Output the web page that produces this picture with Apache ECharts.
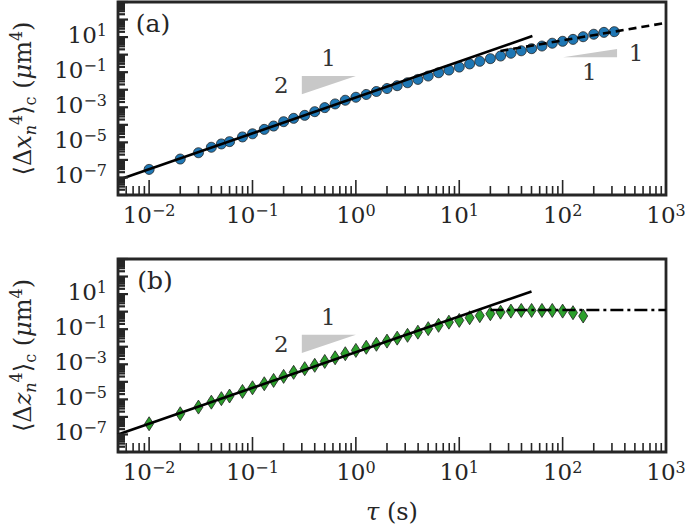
<!DOCTYPE html>
<html><head><meta charset="utf-8">
<script src="https://cdn.jsdelivr.net/npm/echarts@6/dist/echarts.min.js"></script>
<style>html,body{margin:0;padding:0;background:#fff}#c{width:685px;height:529px}</style>
</head><body><div id="c"></div>
<script>
// ---- data ----
const tau = [0.01,0.02,0.03,0.04,0.05,0.06,0.08,0.10,0.13,0.16,0.20,0.25,0.32,0.40,0.50,0.63,0.79,
  1.00,1.26,1.58,2.00,2.51,3.16,3.98,5.01,6.31,7.94,10.0,12.6,15.8,20.0,25.1,31.6,39.8,50.1,63.1,79.4,
  100,126,158,200,251,316];
const cumX = [2.88e-7,1.12e-6,2.57e-6,5.25e-6,8.13e-6,1.10e-5,2.04e-5,3.09e-5,5.50e-5,8.51e-5,1.51e-4,
  2.34e-4,3.47e-4,5.62e-4,9.55e-4,1.55e-3,2.51e-3,3.72e-3,5.37e-3,7.94e-3,1.17e-2,1.70e-2,2.51e-2,
  3.89e-2,6.03e-2,9.33e-2,0.132,0.195,0.295,0.417,0.589,0.832,1.20,1.66,2.19,3.09,4.47,5.75,7.41,
  10.5,14.5,18.6,20.4];
const cumZ = [4.07e-7,1.51e-6,3.63e-6,6.92e-6,1.10e-5,1.55e-5,2.82e-5,4.57e-5,7.76e-5,1.20e-4,2.04e-4,
  3.47e-4,5.62e-4,8.71e-4,1.45e-3,2.34e-3,3.98e-3,6.17e-3,9.33e-3,1.38e-2,2.09e-2,3.09e-2,4.47e-2,
  6.76e-2,0.107,0.166,0.251,0.316,0.447,0.589,0.759,0.933,1.07,1.17,1.17,1.17,1.17,1.07,0.871,0.562];
const fitXshort = [[0.005,7.08e-8],[51,11.5]];
const fitXlong  = [[25,1.62],[1000,64.6]];
const fitZshort = [[0.005,1.0e-7],[50,14.1]];
const plateauZ  = [[20,1.25],[1000,1.25]];
const slopeTriA1 = [[0.3,0.0603],[1.0,0.0603],[0.3,0.0055]];
const slopeTriA2 = [[101,0.705],[336,2.09],[336,0.705]];
const slopeTriB1 = [[0.3,0.0484],[1.0,0.0484],[0.3,0.00437]];
const slopeLabelsA = [['2',0.19,0.0186],['1',0.545,0.62],['1',181,0.107],['1',514,1.19]];
const slopeLabelsB = [['2',0.19,0.0135],['1',0.54,0.49]];
const xTickExps = [-2,-1,0,1,2,3];
const yTickExps = [1,-1,-3,-5,-7];
const minorMult = [2,3,4,5,6,7,8,9];
const xRange = [0.005,1000];
const yRange = [1e-8,1e3];

// ---- styling ----
const FONT = 'DejaVu Serif';
const INK = '#262626';
function expStr(e){ return e<0 ? '\u2212'+(-e) : String(e); }
const tickRich = {
  b:{fontSize:23,lineHeight:26,fontFamily:FONT,fill:INK},
  s:{fontSize:16,lineHeight:14,fontFamily:FONT,fill:INK,verticalAlign:'top'}
};

function axisDeco(gi){
  return {type:'custom',xAxisIndex:gi,yAxisIndex:gi,silent:true,z:6,data:[[1,1]],
    renderItem:function(params,api){
      const kids=[];
      const bl=api.coord([xRange[0],yRange[0]]);
      const left=bl[0], bottom=bl[1];
      const lx=Math.log10(xRange[0]), hx=Math.log10(xRange[1]);
      const ly=Math.log10(yRange[0]), hy=Math.log10(yRange[1]);
      const mults=[1].concat(minorMult);
      for(let e=Math.floor(lx);e<=Math.ceil(hx);e++){
        mults.forEach(function(m){
          const v=m*Math.pow(10,e), lv=Math.log10(v);
          if(lv<lx-1e-9||lv>hx+1e-9) return;
          const px=api.coord([v,yRange[0]])[0];
          const len=m===1?15:9;
          kids.push({type:'line',shape:{x1:px,y1:bottom,x2:px,y2:bottom-len},style:{stroke:INK,lineWidth:1.6}});
        });
      }
      for(let e=Math.floor(ly);e<=Math.ceil(hy);e++){
        mults.forEach(function(m){
          const v=m*Math.pow(10,e), lv=Math.log10(v);
          if(lv<ly-1e-9||lv>hy+1e-9) return;
          const py=api.coord([xRange[0],v])[1];
          const len=m===1?10:7;
          kids.push({type:'line',shape:{x1:left,y1:py,x2:left+len,y2:py},style:{stroke:INK,lineWidth:2.2}});
        });
      }
      xTickExps.forEach(function(e){
        const px=api.coord([Math.pow(10,e),yRange[0]])[0];
        kids.push({type:'text',x:px,y:bottom+20,style:{text:'{b|10}{s|'+expStr(e)+'}',rich:tickRich,
          align:'center',verticalAlign:'middle'}});
      });
      yTickExps.forEach(function(e){
        const py=api.coord([xRange[0],Math.pow(10,e)])[1];
        kids.push({type:'text',x:left-11,y:py-2,style:{text:'{b|10}{s|'+expStr(e)+'}',rich:tickRich,
          align:'right',verticalAlign:'middle'}});
      });
      return {type:'group',children:kids};
    }};
}

function triangles(gi,tris){
  return {type:'custom',xAxisIndex:gi,yAxisIndex:gi,silent:true,z:1,data:[[1,1]],
    renderItem:function(params,api){
      return {type:'group',children:tris.map(function(t){
        return {type:'polygon',shape:{points:t.map(function(p){return api.coord(p);})},
          style:{fill:'#c8c8c8',stroke:null}};
      })};
    }};
}
function slopeText(gi,labels){
  return {type:'custom',xAxisIndex:gi,yAxisIndex:gi,silent:true,z:1,data:[[1,1]],
    renderItem:function(params,api){
      return {type:'group',children:labels.map(function(l){
        const p=api.coord([l[1],l[2]]);
        return {type:'text',x:p[0],y:p[1],style:{text:l[0],fontSize:23,fontFamily:FONT,fill:'#333',
          align:'center',verticalAlign:'middle'}};
      })};
    }};
}
function fitLine(gi,data,type){
  return {type:'line',xAxisIndex:gi,yAxisIndex:gi,data:data,showSymbol:false,symbol:'none',silent:true,z:4,
    lineStyle:{color:'#000',width:2.6,type:type}};
}

const nameRich = {
  t:{fontSize:24,fontFamily:FONT,color:INK,lineHeight:30},
  i:{fontSize:24,fontFamily:FONT,fontStyle:'italic',color:INK,lineHeight:30},
  sub:{fontSize:16,fontFamily:FONT,fontStyle:'italic',color:INK,verticalAlign:'bottom',lineHeight:17},
  subr:{fontSize:16,fontFamily:FONT,color:INK,verticalAlign:'bottom',lineHeight:17},
  sup:{fontSize:16,fontFamily:FONT,color:INK,verticalAlign:'top',lineHeight:15}
};
function yAxisOf(gi,sym){
  return {type:'log',gridIndex:gi,min:yRange[0],max:yRange[1],
    axisLine:{show:false},axisTick:{show:false},axisLabel:{show:false},splitLine:{show:false},
    name:'{t|\u27E8\u0394}{i|'+sym+'}{sub|n}{sup|4}{t|\u27E9}{subr|c}{t| (}{i|\u03BC}{t|m}{sup|4}{t|)}',
    nameLocation:'middle',nameRotate:90,nameGap:80,nameTextStyle:{rich:nameRich}};
}

const option = {
  animation:false,
  backgroundColor:'#fff',
  grid:[
    {left:117,top:2,width:549,height:193,show:true,borderColor:INK,borderWidth:2.8},
    {left:117,top:259,width:549,height:193,show:true,borderColor:INK,borderWidth:2.8}
  ],
  xAxis:[
    {type:'log',gridIndex:0,min:xRange[0],max:xRange[1],axisLine:{show:false},axisTick:{show:false},
      axisLabel:{show:false},splitLine:{show:false}},
    {type:'log',gridIndex:1,min:xRange[0],max:xRange[1],axisLine:{show:false},axisTick:{show:false},
      axisLabel:{show:false},splitLine:{show:false},
      name:'{i|\u03C4}{t| (s)}',nameLocation:'middle',nameGap:45,nameTextStyle:{rich:nameRich}}
  ],
  yAxis:[yAxisOf(0,'x'),yAxisOf(1,'z')],
  graphic:[
    {type:'text',x:153,y:23,style:{text:'(a)',fontSize:25,fontFamily:FONT,fill:INK,align:'center',verticalAlign:'middle'}},
    {type:'text',x:155,y:280,style:{text:'(b)',fontSize:25,fontFamily:FONT,fill:INK,align:'center',verticalAlign:'middle'}}
  ],
  series:[
    triangles(0,[slopeTriA1,slopeTriA2]),
    slopeText(0,slopeLabelsA),
    {type:'scatter',xAxisIndex:0,yAxisIndex:0,data:tau.map(function(t,i){return [t,cumX[i]];}),
      symbol:'circle',symbolSize:10,z:3,silent:true,
      itemStyle:{color:'#1f77b4',borderColor:'#222',borderWidth:0.8,opacity:1}},
    fitLine(0,fitXshort,'solid'),
    fitLine(0,fitXlong,[8,5]),
    axisDeco(0),
    triangles(1,[slopeTriB1]),
    slopeText(1,slopeLabelsB),
    {type:'scatter',xAxisIndex:1,yAxisIndex:1,data:cumZ.map(function(v,i){return [tau[i],v];}),
      symbol:'diamond',symbolSize:[9,14],z:3,silent:true,
      itemStyle:{color:'#2ca02c',borderColor:'#222',borderWidth:0.8,opacity:1}},
    fitLine(1,fitZshort,'solid'),
    fitLine(1,plateauZ,[13,4,3,4]),
    axisDeco(1)
  ]
};
const chart = echarts.init(document.getElementById('c'),null,{renderer:'svg'});
chart.setOption(option);
</script>
</body></html>
